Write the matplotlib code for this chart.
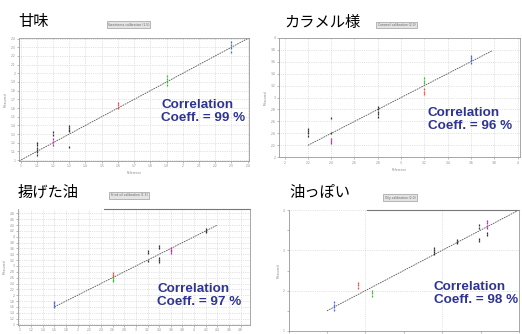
import numpy as np
import matplotlib
matplotlib.use("Agg")
import matplotlib.pyplot as plt
from matplotlib.lines import Line2D

W, H = 522, 334
JP = ['Noto Sans CJK JP', 'DejaVu Sans']
BLUE_TXT = '#2e3494'
COLS = {'k': '#333333', 'm': '#b030b0', 'r': '#ff4848', 'g': '#30c030', 'b': '#4a60ff'}

# panel titles and correlation values
titles = ["甘味", "カラメル様", "揚げた油", "油っぽい"]
coeffs = [99, 96, 97, 98]
legend_txt = ["Sweetness calibration (1.5)", "Caramel calibration (2.0)",
              "Fried oil calibration (1.5)", "Oily calibration (2.0)"]

# 甘味: (reference, measured replicates, colour)
sweet = [
    (1.1, [1.06, 1.09, 1.12, 1.14, 1.17, 1.20], 'k'),
    (1.2, [1.29, 1.32], 'k'),
    (1.2, [1.18, 1.21, 1.24], 'm'),
    (1.3, [1.155, 1.33, 1.35, 1.37, 1.39], 'k'),
    (1.6, [1.60, 1.63, 1.66], 'r'),
    (1.9, [1.86, 1.90, 1.94, 1.97], 'g'),
    (2.3, [2.25, 2.29, 2.33, 2.36], 'b'),
]
sweet_ticks = [1.0, 1.1, 1.2, 1.3, 1.4, 1.5, 1.6, 1.7, 1.8, 1.9, 2.0, 2.1, 2.2, 2.3, 2.4]
sweet_line = [0.99, 2.41]

# カラメル様
caramel = [
    (2.2, [2.36, 2.40, 2.44, 2.48], 'k'),
    (2.4, [2.40, 2.65], 'k'),
    (2.4, [2.24, 2.27, 2.30], 'm'),
    (2.8, [2.68, 2.72, 2.76, 2.80, 2.84], 'k'),
    (3.2, [3.24, 3.28, 3.32], 'g'),
    (3.2, [3.06, 3.10, 3.14], 'r'),
    (3.6, [3.58, 3.62, 3.66, 3.70], 'b'),
]
caramel_ticks = [2.0, 2.2, 2.4, 2.6, 2.8, 3.0, 3.2, 3.4, 3.6, 3.8, 4.0]
caramel_line = [2.2, 3.78]

# 揚げた油
fried = [
    (1.6, [1.60, 1.66, 1.72, 1.78], 'b'),
    (2.6, [2.64, 2.70, 2.76], 'r'),
    (2.6, [2.48, 2.53, 2.58], 'g'),
    (3.2, [3.18, 3.46, 3.50], 'k'),
    (3.4, [3.14, 3.20, 3.26, 3.62, 3.68], 'k'),
    (3.6, [3.44, 3.50, 3.56, 3.61], 'm'),
    (4.2, [4.15, 4.20, 4.25], 'k'),
]
fried_ticks = [1.0, 1.2, 1.4, 1.6, 1.8, 2.0, 2.2, 2.4, 2.6, 2.8, 3.0,
               3.2, 3.4, 3.6, 3.8, 4.0, 4.2, 4.4, 4.6, 4.8]
fried_line = [1.6, 4.4]

# 油っぽい
oily = [
    (1.59, [1.53, 1.59, 1.65, 1.71], 'b'),
    (1.90, [2.06, 2.13, 2.20], 'r'),
    (2.09, [1.88, 1.93, 1.98], 'g'),
    (2.89, [2.90, 2.95, 3.00, 3.05], 'k'),
    (3.19, [3.17, 3.21, 3.25], 'k'),
    (3.48, [3.23, 3.29, 3.55, 3.62], 'k'),
    (3.58, [3.55, 3.61, 3.67, 3.73], 'm'),
    (3.58, [3.39, 3.44], 'k'),
]
oily_ticks = [1, 2, 3, 4]
oily_minor = [1.5, 2.5, 3.5]
oily_line = [1.5, 3.97]

panels = [
    # data, ticks, line, axes box px (l, t, r, b), lims, text pos px, title pos px, legend pos px
    (sweet, sweet_ticks, sweet_line, (19, 37.7, 249.3, 161), (0.99, 2.41), (161, 99), (18, 21.7), (128.5, 24.7)),
    (caramel, caramel_ticks, caramel_line, (279.3, 37.7, 520, 157.3), (1.955, 4.02), (428, 107), (284, 22.7), (396.5, 25)),
    (fried, fried_ticks, fried_line, (18.3, 208.7, 250, 325), (0.98, 4.96), (157, 283), (18, 192), (129, 195.3)),
    (oily, oily_ticks, oily_line, (288.5, 210, 519, 331), (1.0, 4.0), (433.5, 281), (289, 192), (400, 197.5)),
]

fig = plt.figure(figsize=(W / 100, H / 100), dpi=100)
fig.patch.set_facecolor('white')

for i, (data, ticks, line, box, lims, tpos, ttl, lg) in enumerate(panels):
    l, t, r, b = box
    ax = fig.add_axes([l / W, 1 - b / H, (r - l) / W, (b - t) / H])
    ax.set_xlim(lims)
    if i == 1:
        ax.set_ylim(2.0, 4.0)
    else:
        ax.set_ylim(lims)
    ax.set_xticks(ticks)
    ax.set_yticks(ticks)
    if i == 3:
        ax.set_xticks(oily_minor, minor=True)
        ax.set_yticks(oily_minor, minor=True)
        # bottom labels lie below the picture edge in the original
        ax.set_xticklabels([])
    else:
        ax.set_xticklabels([f"{v:g}" for v in ticks], fontsize=2.2, color='#888888')
    ax.set_yticklabels([f"{v:g}" for v in ticks], fontsize=2.2, color='#888888')
    ax.tick_params(length=1.5, width=0.4, pad=1, colors='#888888', which='both')
    ax.grid(True, ls=':', lw=0.5, color='#c8c8c8')
    for s in ax.spines.values():
        s.set_color('#999999')
        s.set_linewidth(0.6)
    if i >= 2:
        ax.spines['top'].set_visible(False)
        ax.add_line(Line2D([0.37 if i == 2 else 0.34, 1], [1, 1], transform=ax.transAxes,
                           color='#777777', lw=0.8, clip_on=False))
    ax.set_ylabel("Measured", fontsize=2.2, color='#888888', labelpad=2)
    if i < 2:
        ax.set_xlabel("Reference", fontsize=2.2, color='#888888', labelpad=2)

    ax.plot(line, line, ls='--', color='#555555', lw=0.6, dashes=(2, 1))
    for x, ys, c in data:
        ax.plot([x] * len(ys), ys, ls='none', marker='|', ms=2.0, mew=0.9,
                color=COLS[c], zorder=3)

    fig.text(tpos[0] / W, 1 - tpos[1] / H, f"Correlation\nCoeff. = {coeffs[i]} %",
             fontsize=9.7, fontweight='bold', color=BLUE_TXT, family='Liberation Sans',
             ha='left', va='top', linespacing=1.1)
    fig.text(ttl[0] / W, 1 - ttl[1] / H, titles[i], fontsize=11, family=JP,
             ha='left', va='center', color='black')
    fig.text(lg[0] / W, 1 - lg[1] / H, legend_txt[i], fontsize=2.2, color='#666666',
             ha='center', va='center',
             bbox=dict(boxstyle='square,pad=0.4', fc='#e4e4e4', ec='#888888', lw=0.4))

fig.savefig("out.png", dpi=100)
